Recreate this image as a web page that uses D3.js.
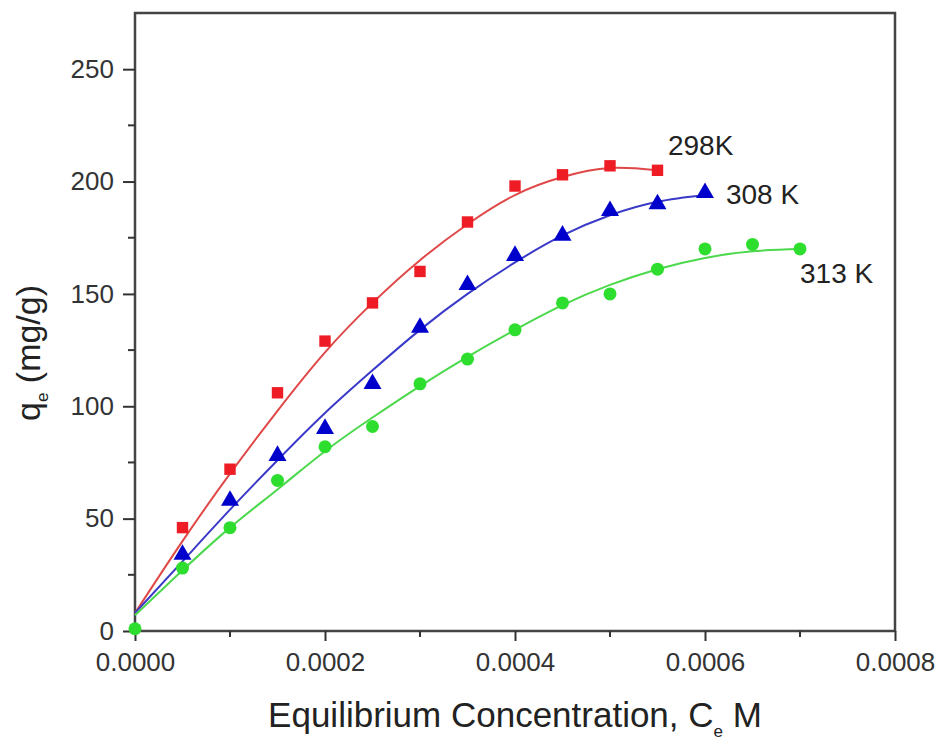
<!DOCTYPE html>
<html lang="en">
<head>
  <meta charset="UTF-8">
  <title>Adsorption Isotherms</title>
  <script src="https://d3js.org/d3.v7.min.js"></script>
  <style>
    body { margin: 0; background: #fff; font-family: "Liberation Sans", Arial, sans-serif; }
    .axis text { font-family: "Liberation Sans", Arial, sans-serif; font-size: 26px; fill: #333; }
    .axis path, .axis line { stroke: #333; stroke-width: 2px; }
    .fit { fill: none; stroke-width: 2px; }
  </style>
</head>
<body>
<div id="chart"></div>
<script>
  // measured points, x in M
  const ce298 = [0.00005, 0.0001, 0.00015, 0.0002, 0.00025, 0.0003, 0.00035, 0.0004, 0.00045, 0.0005, 0.00055];
  const qe298 = [46, 72, 106, 129, 146, 160, 182, 198, 203, 207, 205];

  const ce308 = [0.00005, 0.0001, 0.00015, 0.0002, 0.00025, 0.0003, 0.00035, 0.0004, 0.00045, 0.0005, 0.00055, 0.0006];
  const qe308 = [34, 58, 78, 90, 110, 135, 154, 167, 176, 187, 190, 195];

  const ce313 = [0, 0.00005, 0.0001, 0.00015, 0.0002, 0.00025, 0.0003, 0.00035, 0.0004, 0.00045, 0.0005, 0.00055, 0.0006, 0.00065, 0.0007];
  const qe313 = [1, 28, 46, 67, 82, 91, 110, 121, 134, 146, 150, 161, 170, 172, 170];

  // fitted curves
  const fitX298 = [0, 0.00005, 0.0001, 0.00015, 0.0002, 0.00025, 0.0003, 0.00035, 0.0004, 0.00045, 0.0005, 0.00055];
  const fitY298 = [8, 40, 70, 98, 124, 146, 165, 181, 194, 202, 206, 205];

  const fitX308 = [0, 0.00005, 0.0001, 0.00015, 0.0002, 0.00025, 0.0003, 0.00035, 0.0004, 0.00045, 0.0005, 0.00055, 0.0006];
  const fitY308 = [8, 31, 54, 76, 97, 116, 134, 150, 164, 176, 185, 191, 194];

  const fitX313 = [0, 0.00005, 0.0001, 0.00015, 0.0002, 0.00025, 0.0003, 0.00035, 0.0004, 0.00045, 0.0005, 0.00055, 0.0006, 0.00065, 0.0007];
  const fitY313 = [7, 27, 46, 63, 80, 95, 109, 122, 134, 145, 154, 161, 166, 169, 170];

  const xTicks = [0, 0.0002, 0.0004, 0.0006, 0.0008];
  const xMinor = [0.0001, 0.0003, 0.0005, 0.0007];
  const yTicks = [0, 50, 100, 150, 200, 250];
  const yMinor = [25, 75, 125, 175, 225];

  const width = 941, height = 742;
  const margin = { top: 13, right: 46, bottom: 111, left: 135 };

  const svg = d3.select("#chart").append("svg")
    .attr("width", width)
    .attr("height", height);

  const x = d3.scaleLinear().domain([0, 0.0008]).range([margin.left, width - margin.right]);
  const y = d3.scaleLinear().domain([0, 275]).range([height - margin.bottom, margin.top]);

  // frame
  svg.append("rect")
    .attr("x", x(0)).attr("y", y(275))
    .attr("width", x(0.0008) - x(0)).attr("height", y(0) - y(275))
    .attr("fill", "none").attr("stroke", "#444").attr("stroke-width", 2.5);

  // x axis
  const xAxis = svg.append("g").attr("class", "axis")
    .attr("transform", `translate(0,${y(0)})`)
    .call(d3.axisBottom(x).tickValues(xTicks).tickFormat(d3.format(".4f")).tickSize(10).tickPadding(12));
  xAxis.select(".domain").remove();
  xAxis.selectAll(".minor").data(xMinor).enter().append("line")
    .attr("x1", d => x(d)).attr("x2", d => x(d)).attr("y1", 0).attr("y2", 6);

  // y axis
  const yAxis = svg.append("g").attr("class", "axis")
    .attr("transform", `translate(${x(0)},0)`)
    .call(d3.axisLeft(y).tickValues(yTicks).tickSize(12).tickPadding(9));
  yAxis.select(".domain").remove();
  yAxis.selectAll(".minor").data(yMinor).enter().append("line")
    .attr("x1", 0).attr("x2", -7).attr("y1", d => y(d)).attr("y2", d => y(d));

  // fit lines
  const line = d3.line().x(d => x(d[0])).y(d => y(d[1])).curve(d3.curveNatural);
  const fits = [
    { xs: fitX298, ys: fitY298, color: "#e04848" },
    { xs: fitX308, ys: fitY308, color: "#3a3ac8" },
    { xs: fitX313, ys: fitY313, color: "#4cd84c" }
  ];
  fits.forEach(f => {
    svg.append("path")
      .datum(f.xs.map((v, i) => [v, f.ys[i]]))
      .attr("class", "fit")
      .attr("stroke", f.color)
      .attr("d", line);
  });

  // markers
  svg.selectAll(".sq").data(ce298.map((v, i) => [v, qe298[i]])).enter().append("path")
    .attr("transform", d => `translate(${x(d[0])},${y(d[1])})`)
    .attr("d", d3.symbol(d3.symbolSquare, 130))
    .attr("fill", "#ee1c24");

  svg.selectAll(".tri").data(ce308.map((v, i) => [v, qe308[i]])).enter().append("path")
    .attr("transform", d => `translate(${x(d[0])},${y(d[1])})`)
    .attr("d", d3.symbol(d3.symbolTriangle, 140))
    .attr("fill", "#0000cc");

  svg.selectAll(".dot").data(ce313.map((v, i) => [v, qe313[i]])).enter().append("circle")
    .attr("cx", d => x(d[0])).attr("cy", d => y(d[1]))
    .attr("r", 6.5)
    .attr("fill", "#2ede2e");

  // series labels
  const labels = [
    { text: "298K", cx: 0.000561, qy: 212 },
    { text: "308 K", cx: 0.000622, qy: 190 },
    { text: "313 K", cx: 0.000700, qy: 155 }
  ];
  svg.selectAll(".lab").data(labels).enter().append("text")
    .attr("x", d => x(d.cx)).attr("y", d => y(d.qy))
    .attr("font-size", 28).attr("fill", "#222")
    .text(d => d.text);

  // x title
  const xt = svg.append("text")
    .attr("x", 515).attr("y", 727)
    .attr("text-anchor", "middle")
    .attr("font-size", 35).attr("fill", "#222");
  xt.append("tspan").text("Equilibrium Concentration, C");
  xt.append("tspan").attr("font-size", 17).attr("dy", 10).text("e");
  xt.append("tspan").attr("dy", -10).text(" M");

  // y title
  const yt = svg.append("text")
    .attr("transform", "translate(40,353) rotate(-90)")
    .attr("text-anchor", "middle")
    .attr("font-size", 34).attr("fill", "#222");
  yt.append("tspan").text("q");
  yt.append("tspan").attr("font-size", 17).attr("dy", 8).text("e");
  yt.append("tspan").attr("dy", -8).text(" (mg/g)");
</script>
</body>
</html>
